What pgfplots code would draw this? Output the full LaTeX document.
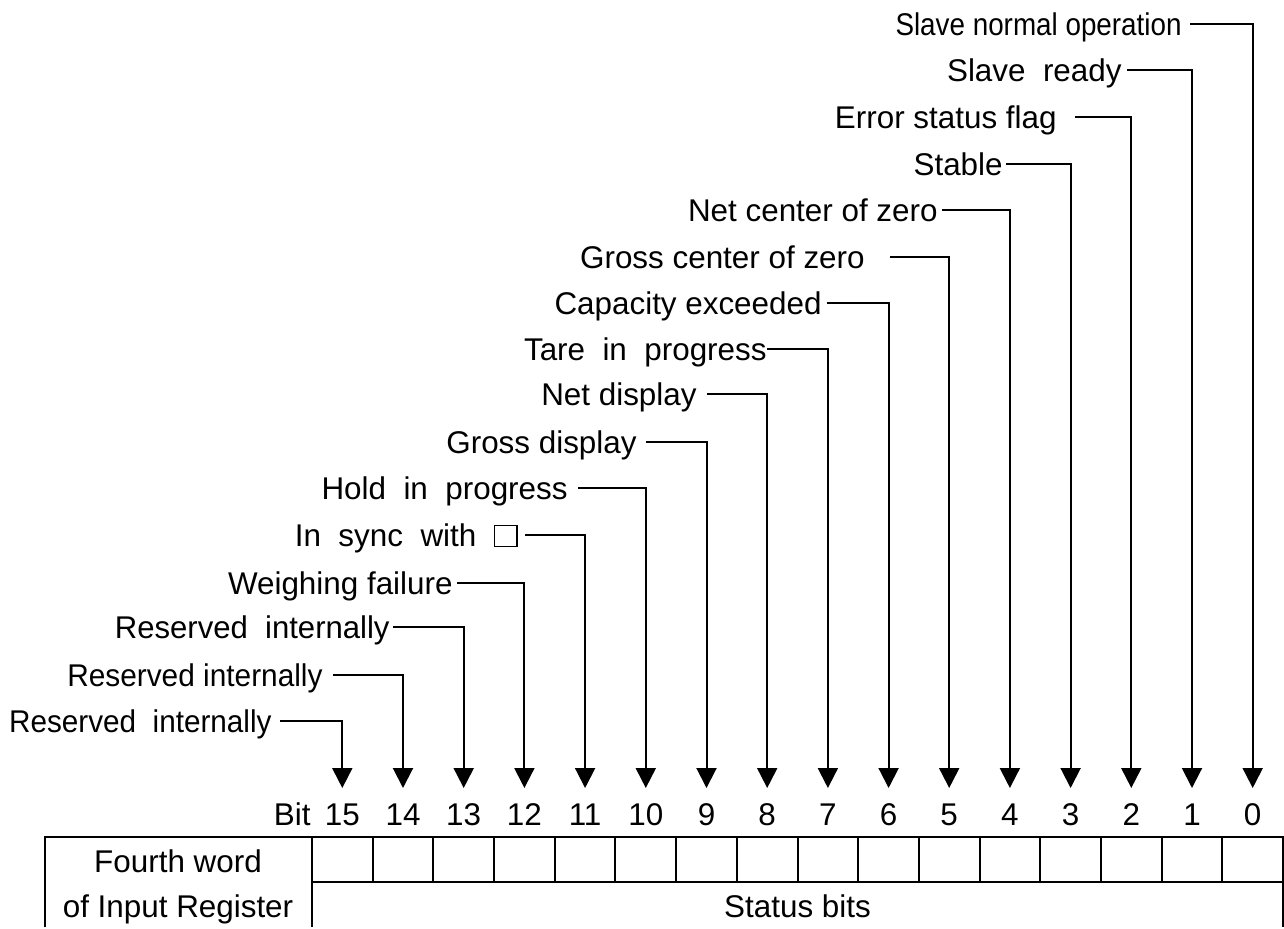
\documentclass[border=0pt]{standalone}
\usepackage{pgfplots}
\pgfplotsset{compat=1.18}
\usepackage{graphicx}
\usepackage{fontspec}
\setmainfont{Liberation Sans}
\usetikzlibrary{arrows.meta}
\newcommand{\sq}{{\setlength{\fboxsep}{0pt}\setlength{\fboxrule}{0.7pt}\fbox{\rule{0pt}{9.8pt}\hspace{10.5pt}}}}
\tikzset{
  arr/.style={black, line width=1pt, -{Triangle[length=10pt,width=10pt]}},
  ln/.style={black, line width=1pt},
  lbl/.style={anchor=base east, inner sep=0pt, font=\fontsize{15.7}{18}\selectfont},
  num/.style={anchor=base, inner sep=0pt, font=\fontsize{15.7}{18}\selectfont},
}
\begin{document}
\fontsize{15.7}{18}\selectfont
\begin{tikzpicture}
\begin{axis}[
  width=642pt, height=463.5pt, scale only axis,
  xmin=0, xmax=1284, ymin=0, ymax=927, y dir=reverse,
  hide axis, clip=false,
  unbounded coords=jump,
]
\path (axis cs:0,0) rectangle (axis cs:1284,927);
% connectors: (line start, y) -> (bit column, y) -> (bit column, arrow tip)
\addplot[arr] coordinates {(1190,24) (1252.7,24) (1252.7,788)};
\addplot[arr] coordinates {(1127,70) (1192.0,70) (1192.0,788)};
\addplot[arr] coordinates {(1075,117) (1131.3,117) (1131.3,788)};
\addplot[arr] coordinates {(1006,164) (1070.6,164) (1070.6,788)};
\addplot[arr] coordinates {(942,210) (1009.9,210) (1009.9,788)};
\addplot[arr] coordinates {(890,257) (949.2,257) (949.2,788)};
\addplot[arr] coordinates {(827,303) (888.6,303) (888.6,788)};
\addplot[arr] coordinates {(767,349) (827.9,349) (827.9,788)};
\addplot[arr] coordinates {(707,394) (767.2,394) (767.2,788)};
\addplot[arr] coordinates {(646,442) (706.5,442) (706.5,788)};
\addplot[arr] coordinates {(578,488) (645.8,488) (645.8,788)};
\addplot[arr] coordinates {(525,535) (585.1,535) (585.1,788)};
\addplot[arr] coordinates {(457,583) (524.4,583) (524.4,788)};
\addplot[arr] coordinates {(393,627) (463.7,627) (463.7,788)};
\addplot[arr] coordinates {(333,675) (403.0,675) (403.0,788)};
\addplot[arr] coordinates {(280,721) (342.3,721) (342.3,788)};
% labels
\node[lbl] at (axis cs:1182,35) {\scalebox{0.886}[1]{Slave normal operation}};
\node[lbl] at (axis cs:1122,81) {Slave\ \ ready};
\node[lbl] at (axis cs:1057,128) {Error status flag};
\node[lbl] at (axis cs:1003,175) {Stable};
\node[lbl] at (axis cs:938,221) {Net center of zero};
\node[lbl] at (axis cs:865,268) {Gross center of zero};
\node[lbl] at (axis cs:822,314) {Capacity exceeded};
\node[lbl] at (axis cs:767,360) {Tare\ \ in\ \ progress};
\node[lbl] at (axis cs:697,405) {Net display};
\node[lbl] at (axis cs:637,453) {Gross display};
\node[lbl] at (axis cs:568,499) {Hold\ \ in\ \ progress};
\node[lbl] at (axis cs:518,546) {In\ \ sync\ \ with\ \ \sq};
\node[lbl] at (axis cs:453,594) {Weighing failure};
\node[lbl] at (axis cs:390,638) {\scalebox{0.99}[1]{Reserved\ \ internally}};
\node[lbl] at (axis cs:323,686) {\scalebox{0.95}[1]{Reserved internally}};
\node[lbl] at (axis cs:272,732) {\scalebox{0.946}[1]{Reserved\ \ internally}};
% bit numbers
\node[lbl] at (axis cs:311,825) {Bit};
\node[num] at (axis cs:342.3,825) {15};
\node[num] at (axis cs:403.0,825) {14};
\node[num] at (axis cs:463.7,825) {13};
\node[num] at (axis cs:524.4,825) {12};
\node[num] at (axis cs:585.1,825) {11};
\node[num] at (axis cs:645.8,825) {10};
\node[num] at (axis cs:706.5,825) {9};
\node[num] at (axis cs:767.2,825) {8};
\node[num] at (axis cs:827.9,825) {7};
\node[num] at (axis cs:888.6,825) {6};
\node[num] at (axis cs:949.2,825) {5};
\node[num] at (axis cs:1009.9,825) {4};
\node[num] at (axis cs:1070.6,825) {3};
\node[num] at (axis cs:1131.3,825) {2};
\node[num] at (axis cs:1192.0,825) {1};
\node[num] at (axis cs:1252.7,825) {0};
% table
\addplot[ln] coordinates {(45,927) (45,837) (1283,837) (1283,927)};
\addplot[ln] coordinates {(312,837) (312,927)};
\addplot[ln] coordinates {(312,882) (1283,882)};
\addplot[ln] coordinates {(372.7,837) (372.7,882) (nan,nan) (433.4,837) (433.4,882) (nan,nan)
  (494.1,837) (494.1,882) (nan,nan) (554.8,837) (554.8,882) (nan,nan)
  (615.4,837) (615.4,882) (nan,nan) (676.1,837) (676.1,882) (nan,nan)
  (736.8,837) (736.8,882) (nan,nan) (797.5,837) (797.5,882) (nan,nan)
  (858.2,837) (858.2,882) (nan,nan) (918.9,837) (918.9,882) (nan,nan)
  (979.6,837) (979.6,882) (nan,nan) (1040.3,837) (1040.3,882) (nan,nan)
  (1101.0,837) (1101.0,882) (nan,nan) (1161.7,837) (1161.7,882) (nan,nan)
  (1222.4,837) (1222.4,882)};
\node[num] at (axis cs:178,872) {Fourth word};
\node[num] at (axis cs:178,917) {of Input Register};
\node[num] at (axis cs:797.5,917) {Status bits};
\end{axis}
\end{tikzpicture}
\end{document}
